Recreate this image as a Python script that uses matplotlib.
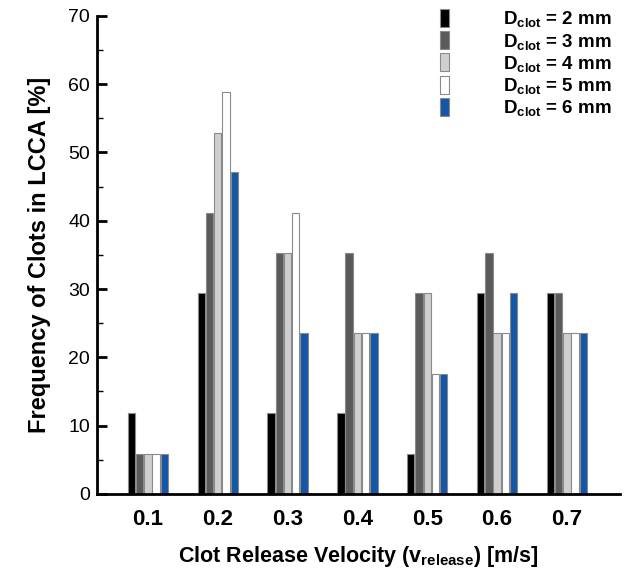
import matplotlib
matplotlib.use('Agg')
import matplotlib.pyplot as plt
import numpy as np
from matplotlib.ticker import MultipleLocator

plt.rcParams['font.family'] = ['Liberation Sans', 'DejaVu Sans']
plt.rcParams['mathtext.fontset'] = 'custom'
plt.rcParams['mathtext.rm'] = 'Liberation Sans:bold'
plt.rcParams['mathtext.bf'] = 'Liberation Sans:bold'
plt.rcParams['mathtext.default'] = 'bf'

velocities = [0.1, 0.2, 0.3, 0.4, 0.5, 0.6, 0.7]
tick_labels = ['0.1', '0.2', '0.3', '0.4', '0.5', '0.6', '0.7']
labels = ['D$_{clot}$ = 2 mm', 'D$_{clot}$ = 3 mm', 'D$_{clot}$ = 4 mm',
          'D$_{clot}$ = 5 mm', 'D$_{clot}$ = 6 mm']
d2 = [11.8, 29.4, 11.8, 11.8, 5.9, 29.4, 29.4]
d3 = [5.9, 41.2, 35.3, 35.3, 29.4, 35.3, 29.4]
d4 = [5.9, 52.9, 35.3, 23.5, 29.4, 23.5, 23.5]
d5 = [5.9, 58.8, 41.2, 23.5, 17.6, 23.5, 23.5]
d6 = [5.9, 47.1, 23.5, 23.5, 17.6, 29.4, 23.5]

series = [d2, d3, d4, d5, d6]
colors = ['#000000', '#5a5a5a', '#cfcfcf', '#ffffff', '#1456a8']

x = np.array(velocities)
width = 0.0105  # bar width
step = 0.0118

fig = plt.figure(figsize=(6.25, 5.69), dpi=100)
ax = fig.add_axes([0.155, 0.132, 0.837, 0.840])

for i, (vals, c) in enumerate(zip(series, colors)):
    ax.bar(x + (i - 2) * step, vals, width=width, color=c,
           edgecolor='#8a8a8a', linewidth=0.8, label=labels[i])

ax.set_xlim(0.027, 0.776)
ax.set_ylim(0, 70)
ax.set_xticks(x)
ax.set_xticklabels(tick_labels, fontsize=16, fontweight='bold')
ax.yaxis.set_major_locator(MultipleLocator(10))
ax.yaxis.set_minor_locator(MultipleLocator(5))
ax.tick_params(axis='y', which='major', direction='in', length=7, width=2, labelsize=14, pad=5)
ax.tick_params(axis='y', which='minor', direction='in', length=4, width=1)
ax.tick_params(axis='x', length=0, pad=11)

ax.spines['top'].set_visible(False)
ax.spines['right'].set_visible(False)
ax.spines['left'].set_linewidth(2)
ax.spines['bottom'].set_linewidth(2)

ax.set_ylabel('Frequency of Clots in LCCA [%]', fontsize=17, fontweight='bold', labelpad=12)
ax.set_xlabel('Clot Release Velocity (v$_{release}$) [m/s]', fontsize=15.5, fontweight='bold', labelpad=10)

leg = ax.legend(loc='upper right', bbox_to_anchor=(1.017, 1.05), frameon=False,
                handlelength=0.45, handleheight=1.1, handletextpad=2.9,
                labelspacing=0.1, prop={'size': 13.5, 'weight': 'bold'})
for h in leg.legend_handles:
    h.set_edgecolor('#8a8a8a')

plt.savefig('out.png', dpi=100)
